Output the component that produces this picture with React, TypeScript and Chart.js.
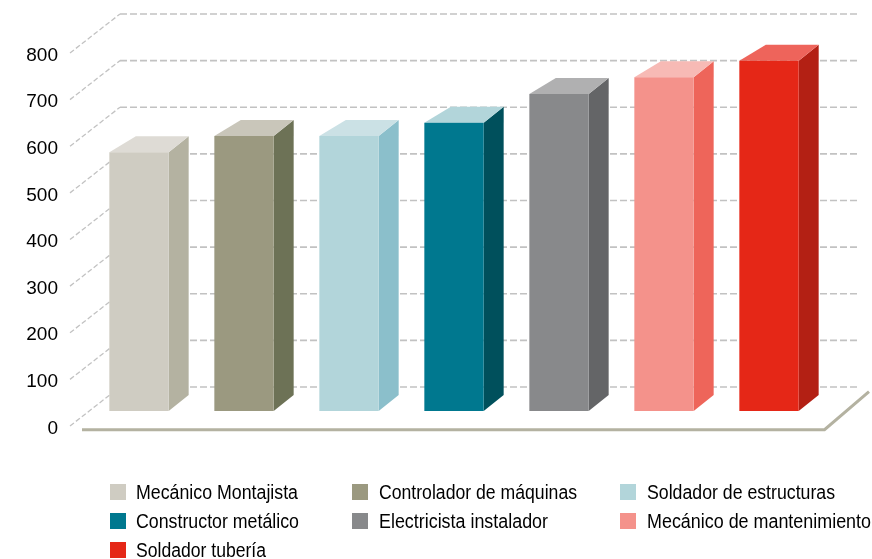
import React, { useEffect, useRef } from "react";
import { Chart, registerables } from "chart.js";

Chart.register(...registerables);

const categories = [
  "Mecánico Montajista",
  "Controlador de máquinas",
  "Soldador de estructuras",
  "Constructor metálico",
  "Electricista instalador",
  "Mecánico de mantenimiento",
  "Soldador tubería",
];
const values = [555, 590, 590, 618, 680, 716, 751];
const frontColors = ["#CFCCC2", "#9B9980", "#B2D5DA", "#00788F", "#88898B", "#F4928B", "#E52717"];
const sideColors = ["#B4B2A1", "#6D7256", "#8BBFCB", "#00505C", "#646567", "#EE655A", "#B32014"];
const topColors = ["#DEDBD5", "#C9C6BA", "#CBE1E5", "#B2D5DA", "#B0B0B1", "#F7BAB5", "#EE645B"];
const legendTextWidths = [162, 198, 188, 163, 169, 224, 130];

const FONT = '"Liberation Sans", Arial, sans-serif';
// The tick pixel sits this far below the front edge of the gridlines (label centring).
const LABEL_SHIFT = 2.5;

const chart3d = {
  id: "chart3d",
  beforeDatasetsDraw(chart: any) {
    const { ctx, scales, chartArea } = chart;
    const y = scales.y;
    ctx.save();
    ctx.strokeStyle = "#C2C2C2";
    y.ticks.forEach((t: any) => {
      const p = y.getPixelForValue(t.value) - LABEL_SHIFT;
      ctx.setLineDash([5, 2.5]);
      ctx.lineWidth = 1.3;
      ctx.beginPath();
      ctx.moveTo(70, p);
      ctx.lineTo(120, p - 39);
      ctx.stroke();
      ctx.setLineDash([7, 3]);
      ctx.lineWidth = 1.7;
      ctx.beginPath();
      ctx.moveTo(120, p - 39);
      ctx.lineTo(858, p - 39);
      ctx.stroke();
    });
    ctx.setLineDash([]);
    // floor
    const floorY = y.getPixelForValue(0) - LABEL_SHIFT + 3.7;
    ctx.strokeStyle = "#B4B2A1";
    ctx.lineWidth = 3;
    ctx.beginPath();
    ctx.moveTo(82, floorY);
    ctx.lineTo(chartArea.right + 3, floorY);
    ctx.lineTo(869, floorY - 38);
    ctx.stroke();
    // side and top faces of each bar
    const meta = chart.getDatasetMeta(0);
    const lift = 15 + LABEL_SHIFT;
    meta.data.forEach((bar: any, i: number) => {
      const l = bar.x - bar.width / 2;
      const r = bar.x + bar.width / 2;
      const t = bar.y - lift;
      const b = bar.base - lift;
      ctx.fillStyle = sideColors[i];
      ctx.beginPath();
      ctx.moveTo(r, t);
      ctx.lineTo(r + 20, t - 16);
      ctx.lineTo(r + 20, b - 16);
      ctx.lineTo(r, b);
      ctx.closePath();
      ctx.fill();
      ctx.fillStyle = topColors[i];
      ctx.beginPath();
      ctx.moveTo(l, t);
      ctx.lineTo(l + 26.5, t - 16);
      ctx.lineTo(r + 20, t - 16);
      ctx.lineTo(r, t);
      ctx.closePath();
      ctx.fill();
    });
    ctx.restore();
    // front faces: the library's own bars, moved up to mid depth
    ctx.save();
    ctx.translate(0, -lift);
  },
  afterDatasetsDraw(chart: any) {
    const { ctx } = chart;
    ctx.restore();
    // legend
    ctx.save();
    ctx.font = `20px ${FONT}`;
    ctx.textBaseline = "alphabetic";
    ctx.textAlign = "left";
    const swatchX = [110, 352, 620];
    const textX = [136, 379, 647];
    categories.forEach((name, i) => {
      const col = i % 3;
      const row = Math.floor(i / 3);
      ctx.fillStyle = frontColors[i];
      ctx.fillRect(swatchX[col], 484 + row * 29, 16, 16);
      ctx.fillStyle = "#000000";
      ctx.fillText(name, textX[col], 499 + row * 29, legendTextWidths[i]);
    });
    ctx.restore();
  },
};

export default function App() {
  const ref = useRef<HTMLCanvasElement | null>(null);
  useEffect(() => {
    const chart = new Chart(ref.current as HTMLCanvasElement, {
      type: "bar",
      data: {
        labels: categories,
        datasets: [
          {
            data: values,
            backgroundColor: frontColors,
            borderWidth: 0,
            categoryPercentage: 1,
            barPercentage: 0.565,
            clip: false,
          } as any,
        ],
      },
      options: {
        responsive: false,
        animation: false,
        devicePixelRatio: 1,
        layout: { padding: { top: 55.5, bottom: 130.5, left: 0, right: 50.5 } },
        plugins: { legend: { display: false }, tooltip: { enabled: false } },
        scales: {
          x: { display: false },
          y: {
            min: 0,
            max: 800,
            border: { display: false },
            grid: { display: false, drawTicks: false },
            ticks: {
              stepSize: 100,
              padding: 28.5,
              color: "#000000",
              font: { family: FONT, size: 19 },
            },
            afterFit: (s: any) => {
              s.width = 86.5;
            },
          },
        },
      } as any,
      plugins: [chart3d as any],
    });
    return () => chart.destroy();
  }, []);
  return (
    <canvas
      ref={ref}
      width={872}
      height={559}
      style={{ position: "absolute", left: 0, top: 0, width: 872, height: 559, display: "block" }}
    />
  );
}
